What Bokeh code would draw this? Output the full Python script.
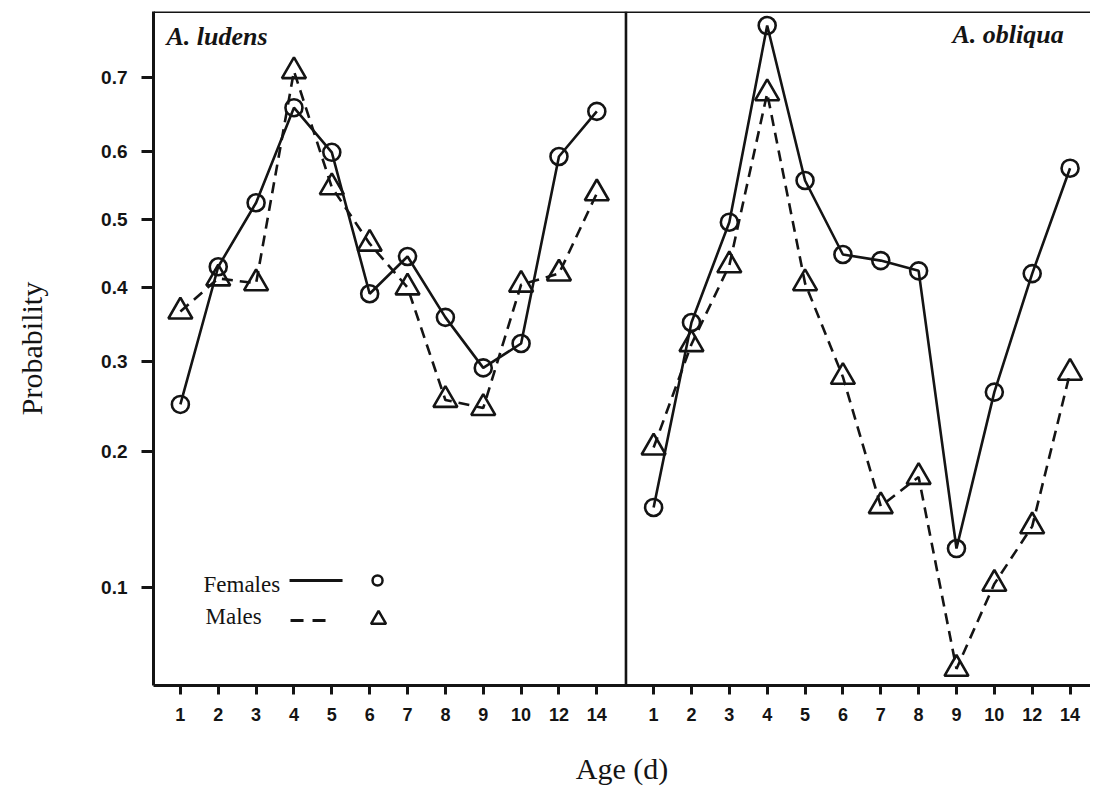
import numpy as np
from bokeh.plotting import figure
from bokeh.models import FixedTicker, Span, Range1d
from bokeh.embed import file_html
from bokeh.resources import INLINE
from bokeh.core.properties import value

# ---------------- data ----------------
ages = ["1", "2", "3", "4", "5", "6", "7", "8", "9", "10", "12", "14"]
probability_ticks = [0.1, 0.2, 0.3, 0.4, 0.5, 0.6, 0.7]
panels = ["A. ludens", "A. obliqua"]

ludens_females = [0.249, 0.430, 0.525, 0.661, 0.599, 0.391, 0.445, 0.358, 0.292, 0.323, 0.593, 0.656]
ludens_males = [0.366, 0.413, 0.406, 0.708, 0.548, 0.464, 0.400, 0.254, 0.245, 0.404, 0.420, 0.539]
obliqua_females = [0.152, 0.351, 0.496, 0.761, 0.558, 0.448, 0.439, 0.424, 0.123, 0.263, 0.420, 0.576]
obliqua_males = [0.204, 0.322, 0.432, 0.680, 0.406, 0.281, 0.153, 0.177, 0.064, 0.102, 0.138, 0.286]

series = {
    "A. ludens": (ludens_females, ludens_males),
    "A. obliqua": (obliqua_females, obliqua_males),
}


def logit(p):
    p = np.asarray(p, dtype=float)
    return np.log(p / (1.0 - p))


# ---------------- layout ----------------
INK = "#141414"
panel_offset = {"A. ludens": 0.0, "A. obliqua": 12.5}
divider_x = 11.77
x_start, x_end = -0.71, 24.04
y_start, y_end = -2.782, 1.242

p = figure(width=1090, height=790, output_backend="svg", toolbar_location=None,
           x_range=Range1d(x_start, x_end), y_range=Range1d(y_start, y_end),
           min_border_left=153, min_border_right=0, min_border_top=11, min_border_bottom=105,
           background_fill_color="white", border_fill_color="white")
p.outline_line_color = None
p.grid.visible = False


# screen-pixel helpers for decorations (titles / legend) only
def sx(px):
    return x_start + (px - 153.0) / 37.85


def sy(py):
    return (219.0 - py) / 167.5


for name in panels:
    fem, mal = series[name]
    xs = [panel_offset[name] + i for i in range(len(ages))]
    yf = logit(fem)
    ym = logit(mal)
    p.line(xs, yf, line_color=INK, line_width=2.6)
    p.line(xs, ym, line_color=INK, line_width=2.6, line_dash="11 7")
    p.scatter(xs, yf, marker="circle", size=17, fill_color=None, line_color=INK, line_width=2.6)
    p.scatter(xs, ym, marker="triangle", size=24, fill_color=None, line_color=INK, line_width=2.6)

# frame pieces: top line and panel divider
p.add_layout(Span(location=y_end, dimension="width", line_color=INK, line_width=3))
p.add_layout(Span(location=divider_x, dimension="height", line_color=INK, line_width=2.6))

# panel titles
p.text(x=[sx(166)], y=[sy(36)], text=[panels[0]], text_font=value("Liberation Serif"),
       text_font_style="bold italic", text_font_size="26px", text_color=INK,
       text_align="left", text_baseline="alphabetic")
p.text(x=[sx(1063)], y=[sy(34)], text=[panels[1]], text_font=value("Liberation Serif"),
       text_font_style="bold italic", text_font_size="26px", text_color=INK,
       text_align="right", text_baseline="alphabetic")

# legend (label, line sample, marker sample)
p.text(x=[sx(203), sx(205)], y=[sy(584), sy(616)], text=["Females", "Males"],
       text_font=value("Liberation Serif"), text_font_size="23px", text_color=INK,
       text_align="left", text_baseline="alphabetic")
p.line([sx(289), sx(342)], [sy(580), sy(580)], line_color=INK, line_width=3)
p.line([sx(290), sx(334)], [sy(620), sy(620)], line_color=INK, line_width=3, line_dash="13 9")
p.scatter([sx(377)], [sy(580)], marker="circle", size=10, fill_color=None, line_color=INK, line_width=2.5)
p.scatter([sx(378)], [sy(619)], marker="triangle", size=15, fill_color=None, line_color=INK, line_width=2.5)

# ---------------- axes ----------------
tick_x = []
tick_labels = {}
for name in panels:
    for i, a in enumerate(ages):
        pos = panel_offset[name] + i
        tick_x.append(pos)
        tick_labels[pos] = a

xa = p.xaxis[0]
xa.ticker = FixedTicker(ticks=tick_x)
xa.major_label_overrides = tick_labels
xa.minor_tick_line_color = None
xa.axis_line_width = 3
xa.axis_line_color = INK
xa.major_tick_line_width = 3
xa.major_tick_line_color = INK
xa.major_tick_out = 9
xa.major_tick_in = 0
xa.major_label_standoff = 13
xa.major_label_text_font = "Liberation Sans"
xa.major_label_text_font_style = "bold"
xa.major_label_text_font_size = "18px"
xa.major_label_text_color = INK
xa.axis_label = "Age (d)"
xa.axis_label_text_font = "Liberation Serif"
xa.axis_label_text_font_style = "normal"
xa.axis_label_text_font_size = "30px"
xa.axis_label_text_color = INK
xa.axis_label_standoff = 28

ytick_pos = list(logit(probability_ticks))
ya = p.yaxis[0]
ya.ticker = FixedTicker(ticks=ytick_pos)
ya.major_label_overrides = {float(t): str(v) for t, v in zip(ytick_pos, probability_ticks)}
ya.minor_tick_line_color = None
ya.axis_line_width = 3
ya.axis_line_color = INK
ya.major_tick_line_width = 3
ya.major_tick_line_color = INK
ya.major_tick_out = 12
ya.major_tick_in = 0
ya.major_label_standoff = 14
ya.major_label_text_font = "Liberation Sans"
ya.major_label_text_font_style = "bold"
ya.major_label_text_font_size = "19px"
ya.major_label_text_color = INK
ya.axis_label = "Probability"
ya.axis_label_text_font = "Liberation Serif"
ya.axis_label_text_font_style = "normal"
ya.axis_label_text_font_size = "30px"
ya.axis_label_text_color = INK
ya.axis_label_standoff = 50

open("out.html", "w").write(file_html(p, INLINE))
